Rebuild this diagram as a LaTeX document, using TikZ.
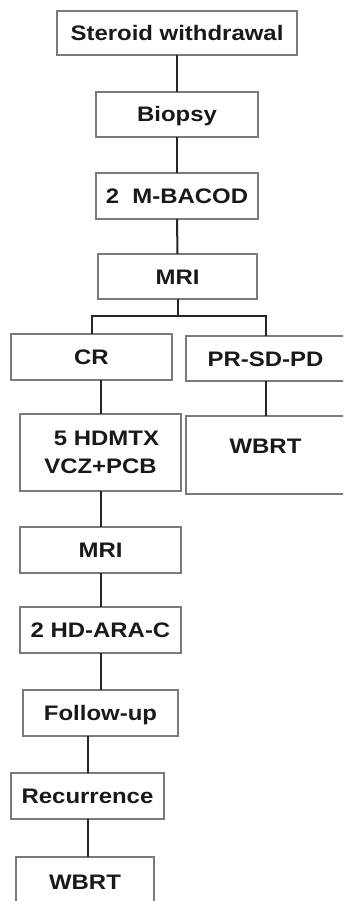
\documentclass[tikz,border=0pt]{standalone}
\usepackage{fontspec}
\usepackage{graphicx}
\setmainfont{Liberation Sans}
\definecolor{boxgray}{HTML}{7A7A7A}
\definecolor{linedark}{HTML}{262626}
\newcommand{\T}[1]{\scalebox{1.14}[1]{#1}}
\tikzset{
  box/.style={draw=boxgray, line width=1.3pt, rectangle, inner sep=0pt, outer sep=0pt,
    font=\fontsize{21}{28}\selectfont\bfseries, text=black!90, align=center},
  one/.style={text height=15pt, text depth=0pt},
  conn/.style={draw=linedark, line width=2pt}
}
\begin{document}
\begin{tikzpicture}[x=1pt,y=-1pt]
\useasboundingbox (0,0) rectangle (343,901);
\clip (0,0) rectangle (343,901);
\fill[white] (0,0) rectangle (343,901);
% boxes: centre at ((x1+x2)/2,(y1+y2)/2)
\node[box,one,minimum width=240pt,minimum height=44pt] (sw) at (177,33) {\T{Steroid withdrawal}};
\node[box,one,minimum width=162pt,minimum height=45pt] (bio) at (177,114.5) {\T{Biopsy}};
\node[box,one,minimum width=162pt,minimum height=46pt] (mb) at (177,196) {\T{2\ \ M-BACOD}};
\node[box,one,minimum width=159pt,minimum height=45pt] (mri1) at (177.5,276.5) {\T{MRI}};
\node[box,one,minimum width=161pt,minimum height=46pt] (cr) at (91.5,357) {\T{CR}};
\node[box,one,minimum width=159pt,minimum height=45pt] (pr) at (265.5,358.5) {\T{PR-SD-PD}};
\node[box,text height=15pt,text depth=18pt,minimum width=159pt,minimum height=78pt] (wb1) at (265.5,455) {\T{WBRT}};
\node[box,minimum width=161pt,minimum height=77pt] (hd) at (100.5,452.5) {\hspace*{12pt}\T{5 HDMTX}\\\T{VCZ+PCB}};
\node[box,one,minimum width=161pt,minimum height=46pt] (mri2) at (100.5,550) {\T{MRI}};
\node[box,one,minimum width=161pt,minimum height=46pt] (ara) at (100.5,630) {\T{2 HD-ARA-C}};
\node[box,one,minimum width=155pt,minimum height=46pt] (fu) at (100.5,713) {\T{Follow-up}};
\node[box,one,minimum width=153pt,minimum height=46pt] (rec) at (87.5,796) {\T{Recurrence}};
\node[box,one,minimum width=138pt,minimum height=50pt] (wb2) at (85,882) {\T{WBRT}};
% connectors
\coordinate (br) at (177.5,316);
\draw[conn] (sw.south) -- (bio.north);
\draw[conn] (bio.south) -- (mb.north);
\draw[conn] (mb.south) -- (mri1.north);
\draw[conn] (mri1.south) -- (br);
\draw[conn] (cr.north) |- (br) -| (pr.north);
\draw[conn] (pr.south) -- (wb1.north -| pr.south);
\draw[conn] (cr.south -| hd.north) -- (hd.north);
\draw[conn] (hd.south) -- (mri2.north);
\draw[conn] (mri2.south) -- (ara.north);
\draw[conn] (ara.south) -- (fu.north);
\draw[conn] (fu.south -| rec.north) -- (rec.north);
\draw[conn] (rec.south) -- (rec.south |- wb2.north);
\end{tikzpicture}
\end{document}
